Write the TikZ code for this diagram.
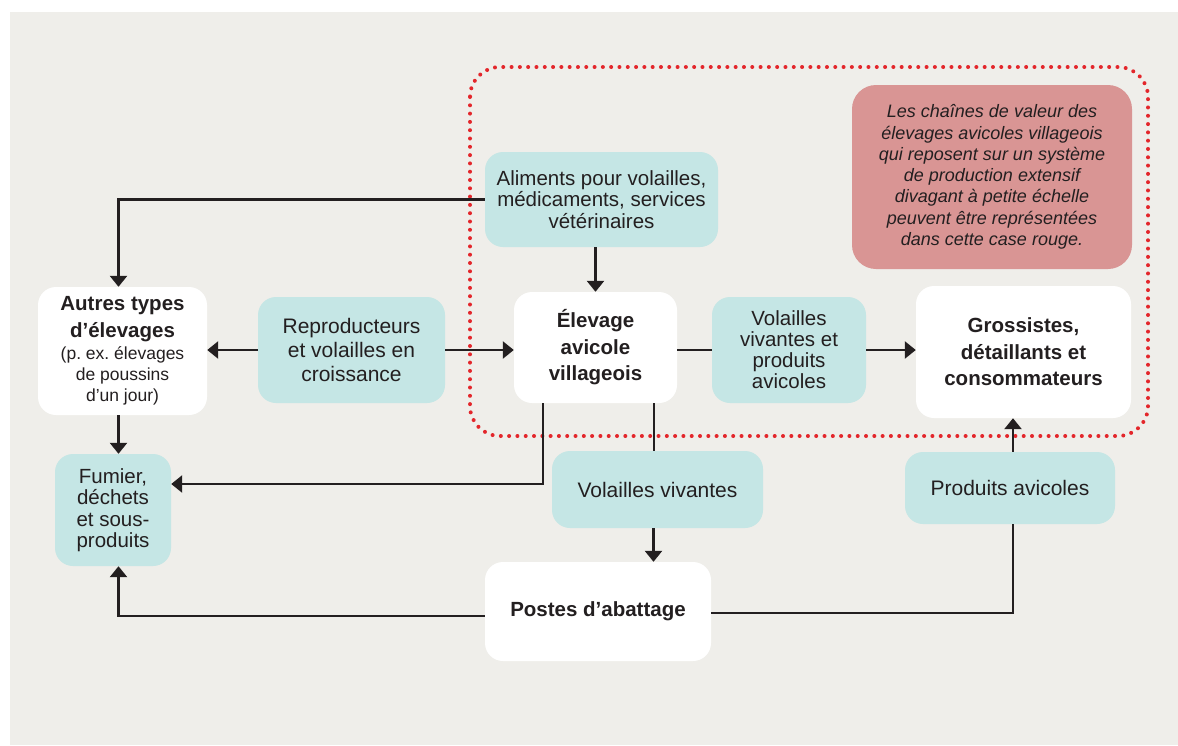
\documentclass[tikz,border=0pt]{standalone}
\usepackage{fontspec}
\setmainfont{Liberation Sans}
\usetikzlibrary{arrows.meta}
\frenchspacing

\definecolor{panel}{HTML}{EFEEEA}
\definecolor{flowteal}{HTML}{C5E6E5}
\definecolor{notered}{HTML}{D99594}
\definecolor{dotred}{HTML}{E3262B}
\definecolor{ink}{HTML}{231F20}

% smaller, regular-weight lines inside a bold box
\newcommand\finetext[1]{{\fontsize{17.5}{21}\selectfont\mdseries #1}}

\tikzset{
  boxsize/.style 2 args={minimum width=#1pt, minimum height=#2pt},
  box/.style={rounded corners=18pt, inner sep=0pt, align=center, text=ink,
    font=\fontsize{21}{24}\selectfont},
  flowbox/.style={box, fill=flowteal},
  whitebox/.style={box, fill=white, font=\fontsize{20.5}{26.5}\selectfont\bfseries},
  notebox/.style={box, fill=notered, rounded corners=24pt,
    font=\fontsize{18}{21.3}\selectfont\itshape},
  link/.style={draw=ink, line width=2.6pt},
  arrowlink/.style={link, -{Triangle[length=11pt,width=17pt]}},
  zoneline/.style={draw=dotred, line width=4pt, line cap=round,
    dash pattern=on 0pt off 8.3pt, rounded corners=30pt},
}

\begin{document}
\begin{tikzpicture}[x=1pt,y=-1pt]
  \useasboundingbox (0,0) rectangle (1178,745);
  \fill[panel] (10,12) rectangle (1178,745);

  % dotted boundary of the village value chain
  \draw[zoneline] (470,67) rectangle (1148,436);

  % nodes
  \node[whitebox, boxsize={169}{128}] (autres) at (122.5,351)
    {Autres types\\d’élevages\\[-4.5pt]\finetext{(p. ex. élevages}\\[-5.5pt]%
     \finetext{de poussins}\\[-5.5pt]\finetext{d’un jour)}};
  \node[flowbox, boxsize={187}{106}] (repro) at (351.5,350)
    {Reproducteurs\\et volailles en\\croissance};
  \node[flowbox, boxsize={233}{95}, font=\fontsize{20.5}{21.7}\selectfont] (aliments) at (601.5,199.5)
    {Aliments pour volailles,\\médicaments, services\\vétérinaires};
  \node[whitebox, boxsize={163}{111}] (elevage) at (595.5,347.5)
    {Élevage\\avicole\\villageois};
  \node[flowbox, boxsize={154}{106}, font=\fontsize{20.5}{21}\selectfont] (vvp) at (789,350)
    {Volailles\\vivantes et\\produits\\avicoles};
  \node[whitebox, boxsize={215}{132}] (gross) at (1023.5,352)
    {Grossistes,\\détaillants et\\consommateurs};
  \node[notebox, boxsize={280}{184}] (note) at (992,177)
    {Les chaînes de valeur des\\élevages avicoles villageois\\qui reposent sur un système\\de production extensif\\divagant à petite échelle\\peuvent être représentées\\dans cette case rouge.};
  \node[flowbox, boxsize={116}{112}, font=\fontsize{20.5}{21.5}\selectfont] (fumier) at (113,510)
    {Fumier,\\déchets\\et sous-\\produits};
  \node[flowbox, boxsize={211}{77}] (vv) at (657.5,489.5) {Volailles vivantes};
  \node[flowbox, boxsize={210}{72}] (pa) at (1010,488) {Produits avicoles};
  \node[whitebox, boxsize={226}{99}] (postes) at (598,611.5) {Postes d’abattage};

  % connectors
  \draw[arrowlink] (aliments.west) -| ([xshift=-4pt]autres.north);
  \draw[arrowlink] (repro.west) -- (repro.west -| autres.east);
  \draw[arrowlink] (repro.east) -- (repro.east -| elevage.west);
  \draw[arrowlink] (aliments.south -| elevage.north) -- (elevage.north);
  \draw[link] (vvp.west -| elevage.east) -- (vvp.west);
  \draw[arrowlink] (vvp.east) -- (vvp.east -| gross.west);
  \draw[arrowlink] ([xshift=-4pt]autres.south) -- ([xshift=-4pt]autres.south |- fumier.north);
  \draw[arrowlink] ([xshift=-52.5pt]elevage.south) |- ([yshift=26pt]fumier.east);
  \draw[link] ([xshift=58.5pt]elevage.south) -- ([xshift=58.5pt]elevage.south |- vv.north);
  \draw[arrowlink] ([xshift=-4pt]vv.south) -- ([xshift=-4pt]vv.south |- postes.north);
  \draw[arrowlink] ([yshift=-4.5pt]postes.west) -| ([xshift=5.5pt]fumier.south);
  \draw[link] ([yshift=-1.5pt]postes.east) -| ([xshift=3pt]pa.south);
  \draw[arrowlink] ([xshift=3pt]pa.north) -- ([xshift=3pt]pa.north |- gross.south);
\end{tikzpicture}
\end{document}
